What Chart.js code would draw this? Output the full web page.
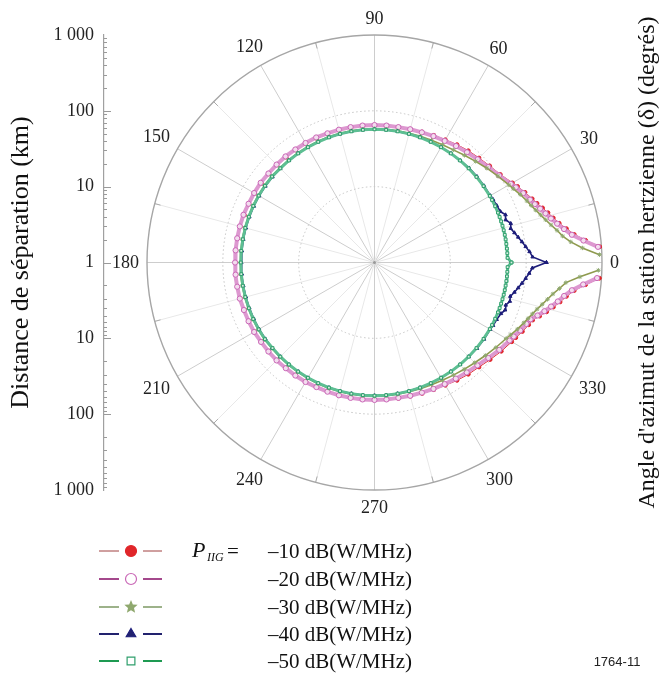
<!DOCTYPE html>
<html lang="fr">
<head>
<meta charset="utf-8">
<title>Distance de séparation</title>
<script src="https://cdn.jsdelivr.net/npm/chart.js@4.4.1/dist/chart.umd.min.js"></script>
<style>
  html, body { margin: 0; padding: 0; background: #fff; }
  #chart { display: block; }
</style>
</head>
<body>
<canvas id="chart" width="662" height="677"></canvas>
<script>
// azimuth of the station (degrees), shared by every curve
const angles = [
  0, 2, 4, 6, 8, 10, 12, 14, 16, 18, 20, 22, 25, 28,
  30, 35, 40, 45, 50, 55, 60, 65, 70, 75, 80, 85,
  90, 95, 100, 105, 110, 115, 120, 125, 130, 135, 140, 145,
  150, 155, 160, 165, 170, 175, 180, 185, 190, 195, 200, 205,
  210, 215, 220, 225, 230, 235, 240, 245, 250, 255, 260, 265,
  270, 275, 280, 285, 290, 295, 300, 305, 310, 315, 320, 325,
  330, 332, 335, 338, 340, 342, 344, 346, 348, 350, 352, 354, 356, 358
];

// separation distance (km) for each P_IIG level; null = beyond 1 000 km
const dist10 = [
  null, null, 950, 630, 457, 372, 309, 269, 240, 214, 191, 175, 155, 137,
  126, 106, 96, 89, 84, 79, 74, 71, 68, 66, 65, 64,
  64, 64, 64, 64, 64, 64, 65, 65, 65, 66, 66, 66,
  67, 67, 67, 68, 68, 68, 68, 68, 68, 68, 67, 67,
  67, 66, 66, 66, 65, 65, 65, 64, 64, 64, 64, 64,
  64, 65, 66, 67, 69, 71, 74, 79, 84, 89, 98, 110,
  123, 129, 142, 156, 166, 195, 230, 270, 318, 372, 457, 630, 940, null
];
const dist20 = [
  null, null, 900, 590, 425, 345, 290, 250, 222, 198, 178, 163, 146, 129,
  119, 101, 91, 84, 79, 75, 71, 69, 67, 66, 65, 65,
  65, 65, 65, 65, 65, 66, 66, 66, 67, 67, 67, 68,
  68, 68, 69, 69, 69, 69, 69, 69, 69, 69, 68, 68,
  68, 67, 67, 67, 66, 66, 66, 65, 65, 65, 65, 65,
  65, 65, 65, 66, 67, 69, 71, 74, 78, 83, 91, 102,
  114, 120, 132, 145, 155, 182, 214, 251, 296, 346, 425, 585, 875, null
];
const dist30 = [
  null, 930, 560, 400, 320, 278, 240, 212, 190, 172, 158, 147, 132, 118,
  111, 97, 86, 77, 70, 65, 62, 60, 59, 58, 58, 58,
  58, 58, 58, 58, 58, 58, 58, 58, 58, 58, 59, 59,
  59, 59, 59, 59, 59, 59, 59, 59, 59, 59, 59, 59,
  59, 59, 58, 58, 58, 58, 58, 58, 58, 58, 58, 58,
  58, 58, 58, 58, 59, 60, 62, 65, 69, 74, 81, 90,
  101, 108, 120, 133, 143, 155, 170, 190, 215, 245, 290, 345, 520, 900
];
const dist40 = [
  185, 122, 112, 101, 92, 84, 77, 71, 74, 66, 69, 62, 60, 59,
  58, 58, 58, 58, 57, 57, 57, 57, 57, 57, 57, 57,
  57, 57, 57, 57, 57, 57, 57, 57, 57, 57, 57, 57,
  57, 57, 57, 57, 57, 57, 57, 57, 57, 57, 57, 57,
  57, 57, 57, 57, 57, 57, 57, 57, 57, 57, 57, 57,
  57, 57, 57, 57, 57, 57, 57, 57, 57, 57, 58, 58,
  58, 59, 60, 63, 68, 66, 72, 70, 77, 84, 92, 101, 111, 121
];
const dist50 = [
  64, 57, 57, 57, 57, 57, 57, 57, 57, 57, 57, 57, 57, 57,
  57, 57, 57, 57, 57, 57, 57, 57, 57, 57, 57, 57,
  57, 57, 57, 57, 57, 57, 57, 57, 57, 57, 58, 58,
  58, 58, 58, 58, 58, 58, 58, 58, 58, 58, 58, 58,
  58, 58, 57, 57, 57, 57, 57, 57, 57, 57, 57, 57,
  57, 57, 57, 57, 57, 57, 57, 57, 57, 57, 57, 57,
  57, 57, 57, 57, 57, 57, 57, 57, 57, 57, 57, 57, 57, 57
];

const seriesLabels = ['\u201310 dB(W/MHz)', '\u201320 dB(W/MHz)', '\u201330 dB(W/MHz)',
                      '\u201340 dB(W/MHz)', '\u201350 dB(W/MHz)'];
const angleTicks = [0, 30, 60, 90, 120, 150, 180, 210, 240, 270, 300, 330];
const distanceTicks = [1, 10, 100, 1000];
const angleTitle = "Angle d'azimut de la station hertzienne (\u03b4) (degrés)";

const SERIF = "'Liberation Serif', 'Times New Roman', serif";

// polar (azimuth, km) -> x/y in decades, log radius with 1 km at the centre
function curve(values) {
  const pts = [];
  angles.forEach((a, i) => {
    const km = values[i];
    if (km == null) return;
    const r = Math.log10(km);
    const t = a * Math.PI / 180;
    pts.push({ x: r * Math.cos(t), y: r * Math.sin(t) });
  });
  if (values.every(v => v != null)) pts.push({ ...pts[0] }); // closed contour
  return pts;
}

function fmtKm(d) {
  return d >= 1000 ? '1 000' : String(d);
}

function drawStar(ctx, x, y, r) {
  ctx.beginPath();
  for (let k = 0; k < 10; k++) {
    const rr = k % 2 ? r * 0.45 : r;
    const t = -Math.PI / 2 + k * Math.PI / 5;
    const px = x + rr * Math.cos(t), py = y + rr * Math.sin(t);
    if (k === 0) ctx.moveTo(px, py); else ctx.lineTo(px, py);
  }
  ctx.closePath();
  ctx.fill();
}

// polar grid, angle labels and inner ticks of the distance axis
const polarGrid = {
  id: 'polarGrid',
  beforeDatasetsDraw(chart) {
    const { ctx } = chart;
    const xs = chart.scales.x, ys = chart.scales.y;
    const cx = xs.getPixelForValue(0), cy = ys.getPixelForValue(0);
    const unit = xs.getPixelForValue(1) - cx;
    const R = unit * Math.log10(distanceTicks[distanceTicks.length - 1]);
    ctx.save();

    // spokes every 15 degrees
    for (let a = 0; a < 360; a += 15) {
      const t = a * Math.PI / 180;
      const major = a % 30 === 0;
      ctx.strokeStyle = major ? '#cdcdcd' : '#e8e8e8';
      ctx.lineWidth = 1;
      ctx.beginPath();
      ctx.moveTo(cx, cy);
      ctx.lineTo(cx + R * Math.cos(t), cy - R * Math.sin(t));
      ctx.stroke();
      if (!major) {
        ctx.strokeStyle = '#aaaaaa';
        ctx.beginPath();
        ctx.moveTo(cx + (R - 6) * Math.cos(t), cy - (R - 6) * Math.sin(t));
        ctx.lineTo(cx + R * Math.cos(t), cy - R * Math.sin(t));
        ctx.stroke();
      }
    }

    // dotted rings at 10 km and 100 km
    ctx.strokeStyle = '#c4c4c4';
    ctx.setLineDash([1.5, 2.5]);
    distanceTicks.slice(1, -1).forEach(d => {
      ctx.beginPath();
      ctx.arc(cx, cy, unit * Math.log10(d), 0, Math.PI * 2);
      ctx.stroke();
    });
    ctx.setLineDash([]);

    // outer ring (1 000 km)
    ctx.strokeStyle = '#a6a6a6';
    ctx.lineWidth = 1.4;
    ctx.beginPath();
    ctx.arc(cx, cy, R, 0, Math.PI * 2);
    ctx.stroke();

    ctx.fillStyle = '#999';
    ctx.beginPath();
    ctx.arc(cx, cy, 1.5, 0, Math.PI * 2);
    ctx.fill();

    // angle labels
    ctx.fillStyle = '#222';
    ctx.font = '18px ' + SERIF;
    ctx.textAlign = 'center';
    ctx.textBaseline = 'middle';
    angleTicks.forEach(a => {
      const t = a * Math.PI / 180;
      const txt = String(a);
      const w = ctx.measureText(txt).width;
      const d = R + 8 + Math.abs(Math.cos(t)) * w / 2 + Math.abs(Math.sin(t)) * 9;
      ctx.fillText(txt, cx + d * Math.cos(t), cy - d * Math.sin(t) + 1);
    });

    // tick marks on the inner side of the distance axis
    const ax = chart.chartArea.left;
    ctx.strokeStyle = '#9a9a9a';
    ctx.lineWidth = 1;
    for (let dec = 0; dec < 3; dec++) {
      for (let k = 1; k <= 9; k++) {
        const v = dec + Math.log10(k);
        const len = k === 1 ? 7 : 3;
        [v, -v].forEach(p => {
          const y = Math.round(ys.getPixelForValue(p)) + 0.5;
          ctx.beginPath();
          ctx.moveTo(ax, y);
          ctx.lineTo(ax + len, y);
          ctx.stroke();
        });
      }
    }

    // right-hand title, reading bottom to top
    ctx.save();
    ctx.translate(chart.width - 14, (chart.chartArea.top + chart.chartArea.bottom) / 2);
    ctx.rotate(-Math.PI / 2);
    ctx.fillStyle = '#111';
    ctx.font = '24px ' + SERIF;
    ctx.textAlign = 'center';
    ctx.textBaseline = 'middle';
    ctx.fillText(angleTitle, 0, 0);
    ctx.restore();

    ctx.restore();
  }
};

// legend below the plot, with the P_IIG label
const figureLegend = {
  id: 'figureLegend',
  afterDraw(chart) {
    const { ctx } = chart;
    const rows = [551, 579, 607, 634, 661];
    const textRight = 412;
    ctx.save();
    chart.data.datasets.forEach((ds, i) => {
      const y = rows[i];
      ctx.strokeStyle = ds.legendLine;
      ctx.lineWidth = i === 0 ? 1 : 2;
      ctx.beginPath();
      ctx.moveTo(99, y); ctx.lineTo(119, y);
      ctx.moveTo(143, y); ctx.lineTo(162, y);
      ctx.stroke();

      if (ds.pointStyle === 'star') {
        ctx.fillStyle = ds.pointBorderColor;
        drawStar(ctx, 131, y, 7);
      } else {
        ctx.fillStyle = ds.legendFill;
        ctx.strokeStyle = ds.pointBorderColor;
        ctx.lineWidth = 1.2;
        Chart.helpers.drawPoint(ctx, { pointStyle: ds.pointStyle, rotation: 0, radius: 5.5, borderWidth: 1.2 }, 131, y);
      }

      ctx.fillStyle = '#111';
      ctx.font = '21px ' + SERIF;
      ctx.textAlign = 'right';
      ctx.textBaseline = 'middle';
      ctx.fillText(ds.label, textRight, y + 1);
    });

    // P_IIG =
    const y0 = rows[0];
    ctx.textAlign = 'left';
    ctx.font = 'italic 22px ' + SERIF;
    ctx.fillText('P', 192, y0);
    ctx.font = 'italic 12px ' + SERIF;
    ctx.fillText('IIG', 207, y0 + 7);
    ctx.font = '21px ' + SERIF;
    ctx.fillText('=', 227, y0 + 1);

    ctx.fillStyle = '#222';
    ctx.font = '13px "Liberation Sans", Arial, sans-serif';
    ctx.textAlign = 'center';
    ctx.fillText('1764-11', 617, 662);
    ctx.restore();
  }
};

function makeSeries(i, data, style) {
  return Object.assign({
    label: seriesLabels[i],
    data: curve(data),
    showLine: true,
    tension: 0,
    pointHoverRadius: 0
  }, style);
}

function initChart() {
  const ctx = document.getElementById('chart');
  new Chart(ctx, {
    type: 'scatter',
    data: {
      datasets: [
        makeSeries(0, dist10, {
          borderColor: '#e0262a', borderWidth: 1, legendLine: '#a04040', legendFill: '#e0262a',
          pointStyle: 'circle', pointRadius: 1.9,
          pointBackgroundColor: '#e0262a', pointBorderColor: '#e0262a', order: 5
        }),
        makeSeries(1, dist20, {
          borderColor: '#dd98d0', borderWidth: 4, legendLine: '#a4488c', legendFill: '#ffffff',
          pointStyle: 'circle', pointRadius: 2.6, pointBorderWidth: 1,
          pointBackgroundColor: '#f4dcef', pointBorderColor: '#c967b6', order: 4
        }),
        makeSeries(2, dist30, {
          borderColor: '#8f9a4e', borderWidth: 1.6, legendLine: '#9db28a', legendFill: '#8fa86e',
          pointStyle: 'star', pointRadius: 2.2, pointBorderWidth: 1,
          pointBackgroundColor: '#8fa86e', pointBorderColor: '#8fa86e', order: 3
        }),
        makeSeries(3, dist40, {
          borderColor: '#1d1d7a', borderWidth: 1.6, legendLine: '#22226e', legendFill: '#22226e',
          pointStyle: 'triangle', pointRadius: 2, pointBorderWidth: 1,
          pointBackgroundColor: '#1d1d7a', pointBorderColor: '#1d1d7a', order: 2
        }),
        makeSeries(4, dist50, {
          borderColor: '#5dbf93', borderWidth: 3, legendLine: '#1e9a52', legendFill: '#ffffff',
          pointStyle: 'rect', pointRadius: 2, pointBorderWidth: 1,
          pointBackgroundColor: '#d8f0e4', pointBorderColor: '#2f9f6c', order: 1
        })
      ]
    },
    options: {
      responsive: false,
      animation: false,
      events: [],
      layout: { padding: { top: 35, bottom: 187, left: 0, right: 60 } },
      scales: {
        x: { type: 'linear', display: false, min: -3.567, max: 3 },
        y: {
          type: 'linear', position: 'left', min: -3, max: 3,
          afterFit: s => { s.width = 104; },
          grid: { display: true, drawOnChartArea: false, drawTicks: false },
          border: { display: true, color: '#a0a0a0', width: 1.2 },
          ticks: {
            stepSize: 1, padding: 10, color: '#222',
            font: { family: SERIF, size: 18 },
            callback: v => fmtKm(Math.round(Math.pow(10, Math.abs(v))))
          },
          title: {
            display: true, text: 'Distance de séparation (km)', color: '#111',
            font: { family: SERIF, size: 26 }, padding: { top: 6, bottom: 0 }
          }
        }
      },
      plugins: {
        legend: { display: false },
        tooltip: { enabled: false }
      }
    },
    plugins: [polarGrid, figureLegend]
  });
}

initChart();
</script>
</body>
</html>
